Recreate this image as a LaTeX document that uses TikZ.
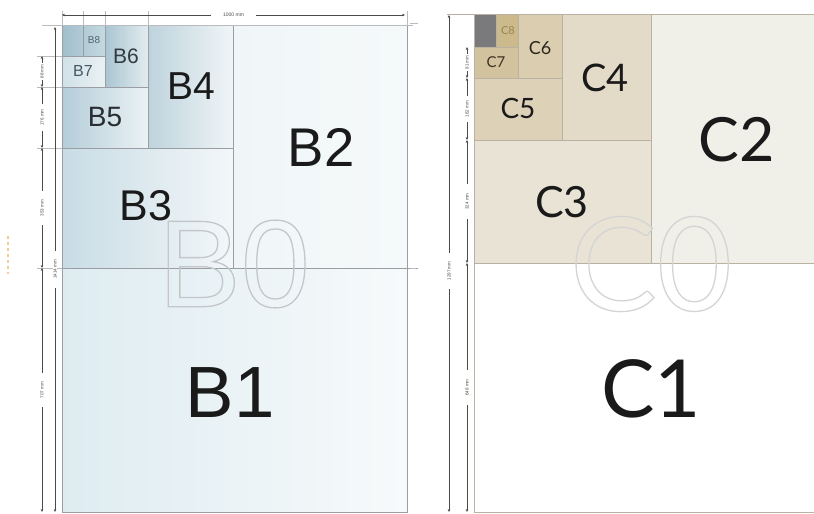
\documentclass[tikz,border=0pt]{standalone}
\usepackage{fontspec}
\setmainfont{Liberation Sans}
\newfontfamily\latofont{Lato}
\usetikzlibrary{arrows.meta}
\newcommand\outlinetxt[1]{\special{pdf:literal direct 1 Tr 1.3 w}#1\special{pdf:literal direct 0 Tr}}
\definecolor{partgray}{HTML}{9A9EA2}
\definecolor{dimgray}{HTML}{4A4A4A}
\definecolor{extgray}{HTML}{B8BCC0}
\definecolor{cpart}{HTML}{B9B2A2}
\definecolor{labdark}{HTML}{1A1A1A}
\definecolor{orangemark}{RGB}{244,205,150}
\definecolor{bzero}{RGB}{196,199,202}
\definecolor{czero}{RGB}{212,212,212}
\definecolor{cctwo}{RGB}{240,239,232}
\definecolor{ccthree}{RGB}{232,227,212}
\definecolor{ccfour}{RGB}{228,218,200}
\definecolor{ccfive}{RGB}{221,209,184}
\definecolor{ccsix}{RGB}{219,205,176}
\definecolor{ccseven}{RGB}{210,194,158}
\definecolor{cceight}{RGB}{205,186,140}
\definecolor{ccdark}{RGB}{122,122,124}
\definecolor{bbfiveT}{RGB}{40,45,50}
\definecolor{bbsixT}{RGB}{50,58,66}
\definecolor{bbsevenT}{RGB}{70,88,102}
\definecolor{bbeightT}{RGB}{80,100,115}
\definecolor{ccsixT}{RGB}{45,40,30}
\definecolor{ccsevenT}{RGB}{60,52,35}
\definecolor{cceightT}{RGB}{150,135,80}
\definecolor{bAl}{RGB}{222,236,241}\definecolor{bAr}{RGB}{247,250,251}
\definecolor{bBl}{RGB}{240,246,248}\definecolor{bBr}{RGB}{245,249,250}
\definecolor{bCl}{RGB}{200,220,229}\definecolor{bCr}{RGB}{243,247,249}
\definecolor{bDl}{RGB}{190,211,221}\definecolor{bDr}{RGB}{240,245,247}
\definecolor{bEl}{RGB}{180,205,216}\definecolor{bEr}{RGB}{235,242,245}
\definecolor{bFl}{RGB}{170,197,209}\definecolor{bFr}{RGB}{226,236,240}
\definecolor{bGl}{RGB}{208,225,232}\definecolor{bGr}{RGB}{234,241,244}
\definecolor{bHl}{RGB}{160,190,203}\definecolor{bHr}{RGB}{196,217,225}
\begin{document}
\begin{tikzpicture}[x=1pt,y=-1pt,
  part/.style={draw=partgray, line width=0.9pt},
  cpartl/.style={draw=cpart, line width=0.9pt},
  extl/.style={draw=extgray, line width=0.6pt},
  dimarr/.style={draw=dimgray, line width=0.8pt, {Stealth[length=3pt,width=2.6pt]}-{Stealth[length=3pt,width=2.6pt]}},
  dimtext/.style={font=\fontsize{4.5}{4.5}\selectfont, text=dimgray, rotate=90, inner xsep=9pt, inner ysep=0.6pt, fill=white},
  toptext/.style={font=\fontsize{5}{5}\selectfont, text=dimgray, inner xsep=12pt, inner ysep=0.6pt, fill=white},
  lab/.style={inner sep=0pt, text=labdark, anchor=center},
  clab/.style={inner sep=0pt, text=labdark, anchor=center},
]
\useasboundingbox (0,0) rectangle (814,514);
\fill[white] (0,0) rectangle (814,514);

% ---------- B series fills ----------
\fill[left color=bAl, right color=bAr] (62,268) rectangle (407,512);
\fill[left color=bBl, right color=bBr] (233,25) rectangle (407,268);
\fill[left color=bCl, right color=bCr] (62,148) rectangle (233,268);
\fill[left color=bDl, right color=bDr] (148,25) rectangle (233,148);
\fill[left color=bEl, right color=bEr] (62,87) rectangle (148,148);
\fill[left color=bFl, right color=bFr] (105,25) rectangle (148,87);
\fill[left color=bGl, right color=bGr] (62,56) rectangle (105,87);
\fill[left color=bHl, right color=bHr] (62,25) rectangle (105,56);

% ---------- B series partition lines ----------
\draw[part] (62,25) rectangle (407,512);
\draw[part] (62,268) -- (418,268);
\draw[part] (233,25) -- (233,268);
\draw[part] (62,148) -- (233,148);
\draw[part] (148,25) -- (148,148);
\draw[part] (62,87) -- (148,87);
\draw[part] (105,25) -- (105,87);
\draw[part] (62,56) -- (105,56);
\draw[part] (83,25) -- (83,56);

% extension lines (B)
\draw[extl] (42,25) -- (413,25);
\draw[extl] (37,56) -- (62,56);
\draw[extl] (37,87) -- (62,87);
\draw[extl] (37,148) -- (62,148);
\draw[extl] (37,268) -- (62,268);
\foreach \xx in {62,83,105,148,407} {\draw[extl] (\xx,11) -- (\xx,25);}

% ---------- C series fills ----------
\fill[cctwo] (651,14) rectangle (814,263);
\fill[ccthree] (474,140) rectangle (651,263);
\fill[ccfour] (562,14) rectangle (651,140);
\fill[ccfive] (474,78) rectangle (562,140);
\fill[ccsix] (518,14) rectangle (562,78);
\fill[ccseven] (474,47) rectangle (518,78);
\fill[cceight] (496,14) rectangle (518,47);
\fill[ccdark] (474,14) rectangle (496,47);

% ---------- C series partition lines ----------
\draw[cpartl] (447,14) -- (814,14);
\draw[cpartl] (474,14) -- (474,512);
\draw[cpartl] (474,512) -- (814,512);
\draw[cpartl] (474,263) -- (814,263);
\draw[cpartl] (651,14) -- (651,263);
\draw[cpartl] (474,140) -- (651,140);
\draw[cpartl] (562,14) -- (562,140);
\draw[cpartl] (474,78) -- (562,78);
\draw[cpartl] (518,14) -- (518,78);
\draw[cpartl] (474,47) -- (518,47);
\draw[cpartl] (496,14) -- (496,47);

% small marks
\draw[extl] (410,23) -- (418,23);
\draw[extl] (410,268) -- (416,268);
\draw[draw=orangemark, line width=1.8pt, dash pattern=on 3pt off 3pt] (8,236) -- (8,274);

% ---------- dimension lines B ----------
\coordinate (bt1) at (62,15);
\coordinate (bt2) at (405,15);
\draw[dimarr] (bt1) -- node[toptext] (t1000) {1000 mm} (bt2);
\coordinate (bo1) at (55,27);
\coordinate (bo2) at (55,512);
\draw[dimarr] (bo1) -- node[dimtext] (t1414) {1414 mm} (bo2);
\coordinate (bd1) at (42,56);
\coordinate (bd2) at (42,87);
\coordinate (bd3) at (42,148);
\coordinate (bd4) at (42,268);
\coordinate (bd5) at (42,512);
\draw[dimarr] (bd1) -- node[dimtext, inner xsep=2pt] (t88) {88 mm} (bd2);
\draw[dimarr] (bd2) -- node[dimtext, inner xsep=5pt] (t176) {176 mm} (bd3);
\draw[dimarr] (bd3) -- node[dimtext] (t353) {353 mm} (bd4);
\draw[dimarr] (bd4) -- node[dimtext] (t707) {707 mm} (bd5);

% ---------- dimension lines C ----------
\coordinate (co1) at (449,15);
\coordinate (co2) at (449,512);
\draw[dimarr] (co1) -- node[dimtext, pos=0.515] (t1297) {1297 mm} (co2);
\coordinate (cd1) at (467,47);
\coordinate (cd2) at (467,78);
\coordinate (cd3) at (467,140);
\coordinate (cd4) at (467,263);
\coordinate (cd5) at (467,512);
\draw[dimarr] (cd1) -- node[dimtext, inner xsep=2pt] (t81) {81 mm} (cd2);
\draw[dimarr] (cd2) -- node[dimtext, inner xsep=5pt] (t162) {162 mm} (cd3);
\draw[dimarr] (cd3) -- node[dimtext] (t324) {324 mm} (cd4);
\draw[dimarr] (cd4) -- node[dimtext] (t648) {648 mm} (cd5);

% ---------- outline labels ----------
\node[inner sep=0pt, text=bzero, font=\fontsize{124}{124}\selectfont] (B0) at (234,264) {\outlinetxt{B0}};
\node[inner sep=0pt, text=czero, font=\latofont\fontsize{130}{130}\selectfont] (C0) at (651,264) {\outlinetxt{C0}};

% ---------- B labels ----------
\node[lab, font=\fontsize{72.6}{72}\selectfont] (B1) at (230,393) {B1};
\node[lab, font=\fontsize{54.5}{54}\selectfont] (B2) at (321,147) {B2};
\node[lab, font=\fontsize{43}{43}\selectfont] (B3) at (146,206) {B3};
\node[lab, font=\fontsize{39}{39}\selectfont] (B4) at (191,86) {B4};
\node[lab, font=\fontsize{28}{28}\selectfont, text=bbfiveT] (B5) at (105,117) {B5};
\node[lab, font=\fontsize{21}{21}\selectfont, text=bbsixT] (B6) at (126,56) {B6};
\node[lab, font=\fontsize{16}{16}\selectfont, text=bbsevenT] (B7) at (83,71) {B7};
\node[lab, font=\fontsize{10}{10}\selectfont, text=bbeightT] (B8) at (94,40) {B8};

% ---------- C labels ----------
\node[clab, font=\latofont\fontsize{80}{80}\selectfont] (C1) at (651,389) {C1};
\node[clab, font=\latofont\fontsize{61}{61}\selectfont] (C2) at (737,140) {C2};
\node[clab, font=\latofont\fontsize{43}{43}\selectfont] (C3) at (562,202) {C3};
\node[clab, font=\latofont\fontsize{38}{38}\selectfont] (C4) at (605,78) {C4};
\node[clab, font=\latofont\fontsize{28}{28}\selectfont] (C5) at (518,108) {C5};
\node[clab, font=\latofont\fontsize{18}{18}\selectfont, text=ccsixT] (C6) at (540,48) {C6};
\node[clab, font=\latofont\fontsize{15}{15}\selectfont, text=ccsevenT] (C7) at (496,62) {C7};
\node[clab, font=\latofont\fontsize{11}{11}\selectfont, text=cceightT] (C8) at (508,31) {C8};
\end{tikzpicture}
\end{document}
